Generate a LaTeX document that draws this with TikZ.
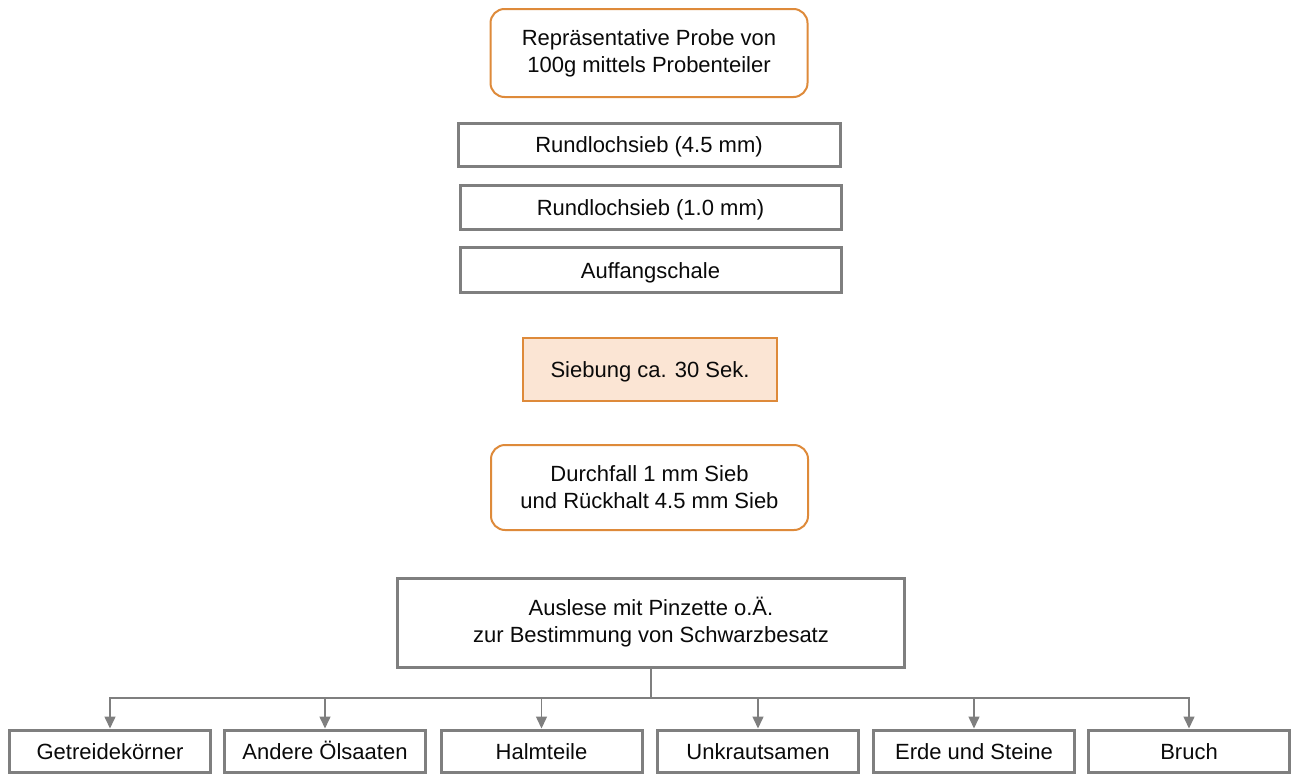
\documentclass[tikz,border=0pt]{standalone}
\usepackage{fontspec}
\setmainfont{Liberation Sans}
\usetikzlibrary{arrows.meta}
\definecolor{boxgray}{RGB}{127,127,127}
\definecolor{orng}{RGB}{222,138,58}
\definecolor{peach}{RGB}{251,229,212}
\definecolor{txt}{RGB}{10,10,10}
\begin{document}
\begin{tikzpicture}[x=1pt,y=-1pt,
  every node/.style={font=\fontsize{22}{27}\selectfont, text=txt, inner sep=0pt, align=center},
  oneline/.style={text height=16pt, text depth=0pt},
  graybox/.style={draw=boxgray, line width=3pt, fill=white},
  roundbox/.style={draw=orng, line width=2pt, rounded corners=14pt, fill=white},
  sievebox/.style={draw=orng, line width=2pt, fill=peach, oneline},
  leafbox/.style={graybox, oneline, minimum width=201pt, minimum height=42pt},
  conn/.style={draw=boxgray, line width=1.5pt, -{Triangle[width=11pt,length=12pt]}}]
\useasboundingbox (0,0) rectangle (1291,774);
\node[roundbox, minimum width=317pt, minimum height=88pt] (probe) at (649,53) {Repräsentative Probe von\\100g mittels Probenteiler};
\node[graybox, oneline, minimum width=382pt, minimum height=43pt] (s45) at (649,144.5) {Rundlochsieb (4.5 mm)};
\node[graybox, oneline, minimum width=381pt, minimum height=44pt] (s10) at (650.5,207.5) {Rundlochsieb (1.0 mm)};
\node[graybox, oneline, minimum width=381pt, minimum height=45pt] (schale) at (650.5,270) {Auffangschale};
\node[sievebox, minimum width=254pt, minimum height=63pt] (sieb) at (650,369.5) {Siebung ca. 30 Sek.};
\node[roundbox, minimum width=317pt, minimum height=85pt] (durch) at (649.5,487.5) {Durchfall 1 mm Sieb\\und Rückhalt 4.5 mm Sieb};
\node[graybox, minimum width=507pt, minimum height=89pt] (ausl) at (651,622.5) {Auslese mit Pinzette o.Ä.\\zur Bestimmung von Schwarzbesatz};
\coordinate (bus) at (651,698);
\node[leafbox] (c1) at (110,751) {Getreidekörner};
\node[leafbox] (c2) at (325,751) {Andere Ölsaaten};
\node[leafbox] (c3) at (541.5,751) {Halmteile};
\node[leafbox] (c4) at (758,751) {Unkrautsamen};
\node[leafbox] (c5) at (974,751) {Erde und Steine};
\node[leafbox] (c6) at (1189,751) {Bruch};
\foreach \c in {c1,c2,c3,c4,c5,c6}{
  \draw[conn] (ausl.south) -- (bus) -| (\c.north);
}
\end{tikzpicture}
\end{document}
